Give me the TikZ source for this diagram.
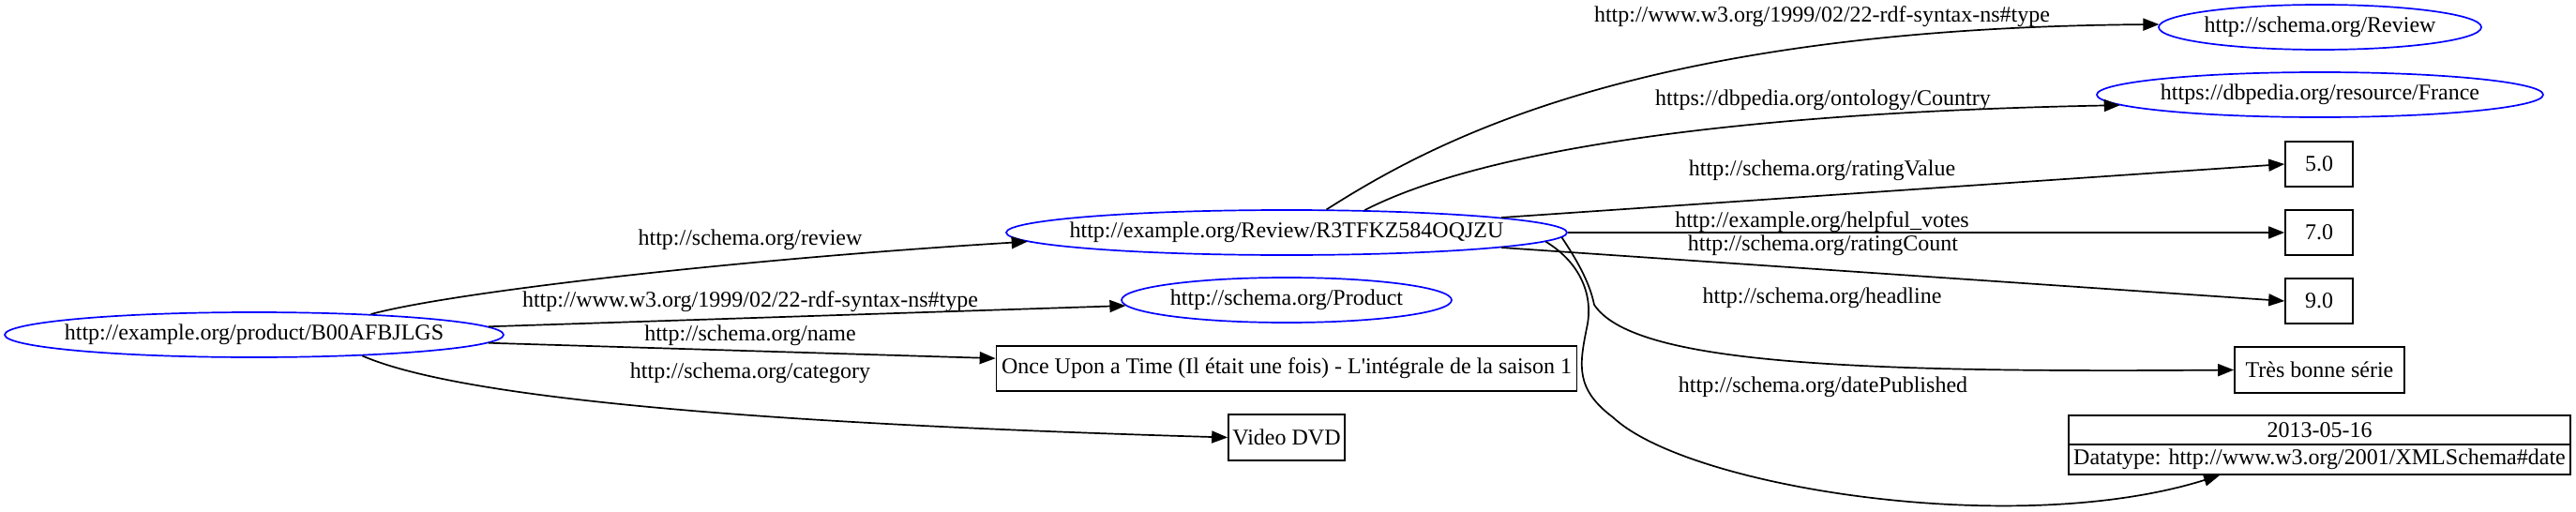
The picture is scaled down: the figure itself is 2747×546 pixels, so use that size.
\documentclass[tikz,border=0pt]{standalone}
\usepackage{fontspec}
\setmainfont{Liberation Serif}
\usetikzlibrary{arrows.meta,shapes.geometric}
\begin{document}
\begin{tikzpicture}[x=0.5pt,y=-0.5pt,
  every node/.style={font=\fontsize{12pt}{14pt}\selectfont},
  uri/.style={draw=blue, ellipse, line width=0.85pt, inner sep=0pt},
  lit/.style={draw=black, rectangle, line width=0.85pt, inner sep=0pt},
  edge/.style={-{Triangle[length=8.5pt,width=6.5pt]}, line width=0.85pt},
  elabel/.style={inner sep=0pt}]
\useasboundingbox (0,0) rectangle (2747,546);
% nodes
\node[uri, minimum width=266pt, minimum height=24pt, label={center:http://example.org/product/B00AFBJLGS}] (prod) at (271,357) {};
\node[uri, minimum width=299pt, minimum height=24pt, label={center:http://example.org/Review/R3TFKZ584OQJZU}] (rev) at (1372,248) {};
\node[uri, minimum width=176pt, minimum height=24pt, label={center:http://schema.org/Product}] (ptype) at (1372,320) {};
\node[lit, minimum width=309.5pt, minimum height=24pt] (name) at (1372,393) {Once Upon a Time (Il était une fois) - L\textquotesingle intégrale de la saison 1};
\node[lit, minimum width=62pt, minimum height=24.5pt] (dvd) at (1372,466.5) {Video DVD};
\node[uri, minimum width=172pt, minimum height=24pt, label={center:http://schema.org/Review}] (rtype) at (2474,29) {};
\node[uri, minimum width=238pt, minimum height=24pt, label={center:https://dbpedia.org/resource/France}] (france) at (2474,101) {};
\node[lit, minimum width=36pt, minimum height=24pt] (v5) at (2473,175) {5.0};
\node[lit, minimum width=36pt, minimum height=24pt] (v7) at (2473,248) {7.0};
\node[lit, minimum width=36pt, minimum height=24pt] (v9) at (2473,321) {9.0};
\node[lit, minimum width=90.5pt, minimum height=24.5pt] (tres) at (2473.5,394.5) {Très bonne série};
\node[lit, minimum width=267.5pt, minimum height=15.5pt] (dateA) at (2473.5,458.5) {2013-05-16};
\node[lit, minimum width=267.5pt, minimum height=16pt] (dateB) at (2473.5,490) {Datatype: http://www.w3.org/2001/XMLSchema\#date};
% edge labels
\node[elabel] (l1) at (800,256) {http://schema.org/review};
\node[elabel] (l2) at (800,322) {http://www.w3.org/1999/02/22-rdf-syntax-ns\#type};
\node[elabel] (l3) at (800,358) {http://schema.org/name};
\node[elabel] (l4) at (800,398) {http://schema.org/category};
\node[elabel] (l5) at (1943,18) {http://www.w3.org/1999/02/22-rdf-syntax-ns\#type};
\node[elabel] (l6) at (1944,107) {https://dbpedia.org/ontology/Country};
\node[elabel] (l7) at (1943,182) {http://schema.org/ratingValue};
\node[elabel] (l8) at (1943,237) {http://example.org/helpful\_votes};
\node[elabel] (l9) at (1944,262) {http://schema.org/ratingCount};
\node[elabel] (l10) at (1943,318) {http://schema.org/headline};
\node[elabel] (l11) at (1944,413) {http://schema.org/datePublished};
% edges
\draw[edge] (prod.10.8) .. controls (480,312) and (780,277) .. (rev.182.7);
\draw[edge] (prod.2) -- (ptype.182);
\draw[edge] (prod.-2.6) -- (name.178.5);
\draw[edge] (prod.-11.5) .. controls (480,420) and (750,450) .. (dvd.west);
\draw[edge] (rev.30.6) .. controls (1530,150) and (1750,30) .. (rtype.179);
\draw[edge] (rev.16.3) .. controls (1580,160) and (1850,120) .. (france.183.2);
\draw[edge] (rev.4.5) -- (v5.west);
\draw[edge] (rev.east) -- (v7.west);
\draw[edge] (rev.-4.5) -- (v9.west);
\draw[edge] (rev.-1.9) .. controls (1680,275) and (1695,300) .. (1700,325)
  .. controls (1740,385) and (1950,398) .. (tres.west);
\draw[edge] (rev.-2.4) .. controls (1685,280) and (1700,315) .. (1692,350)
  .. controls (1684,390) and (1680,415) .. (1720,445)
  .. controls (1800,520) and (2150,575) .. (dateB.-171.9);
\end{tikzpicture}
\end{document}
